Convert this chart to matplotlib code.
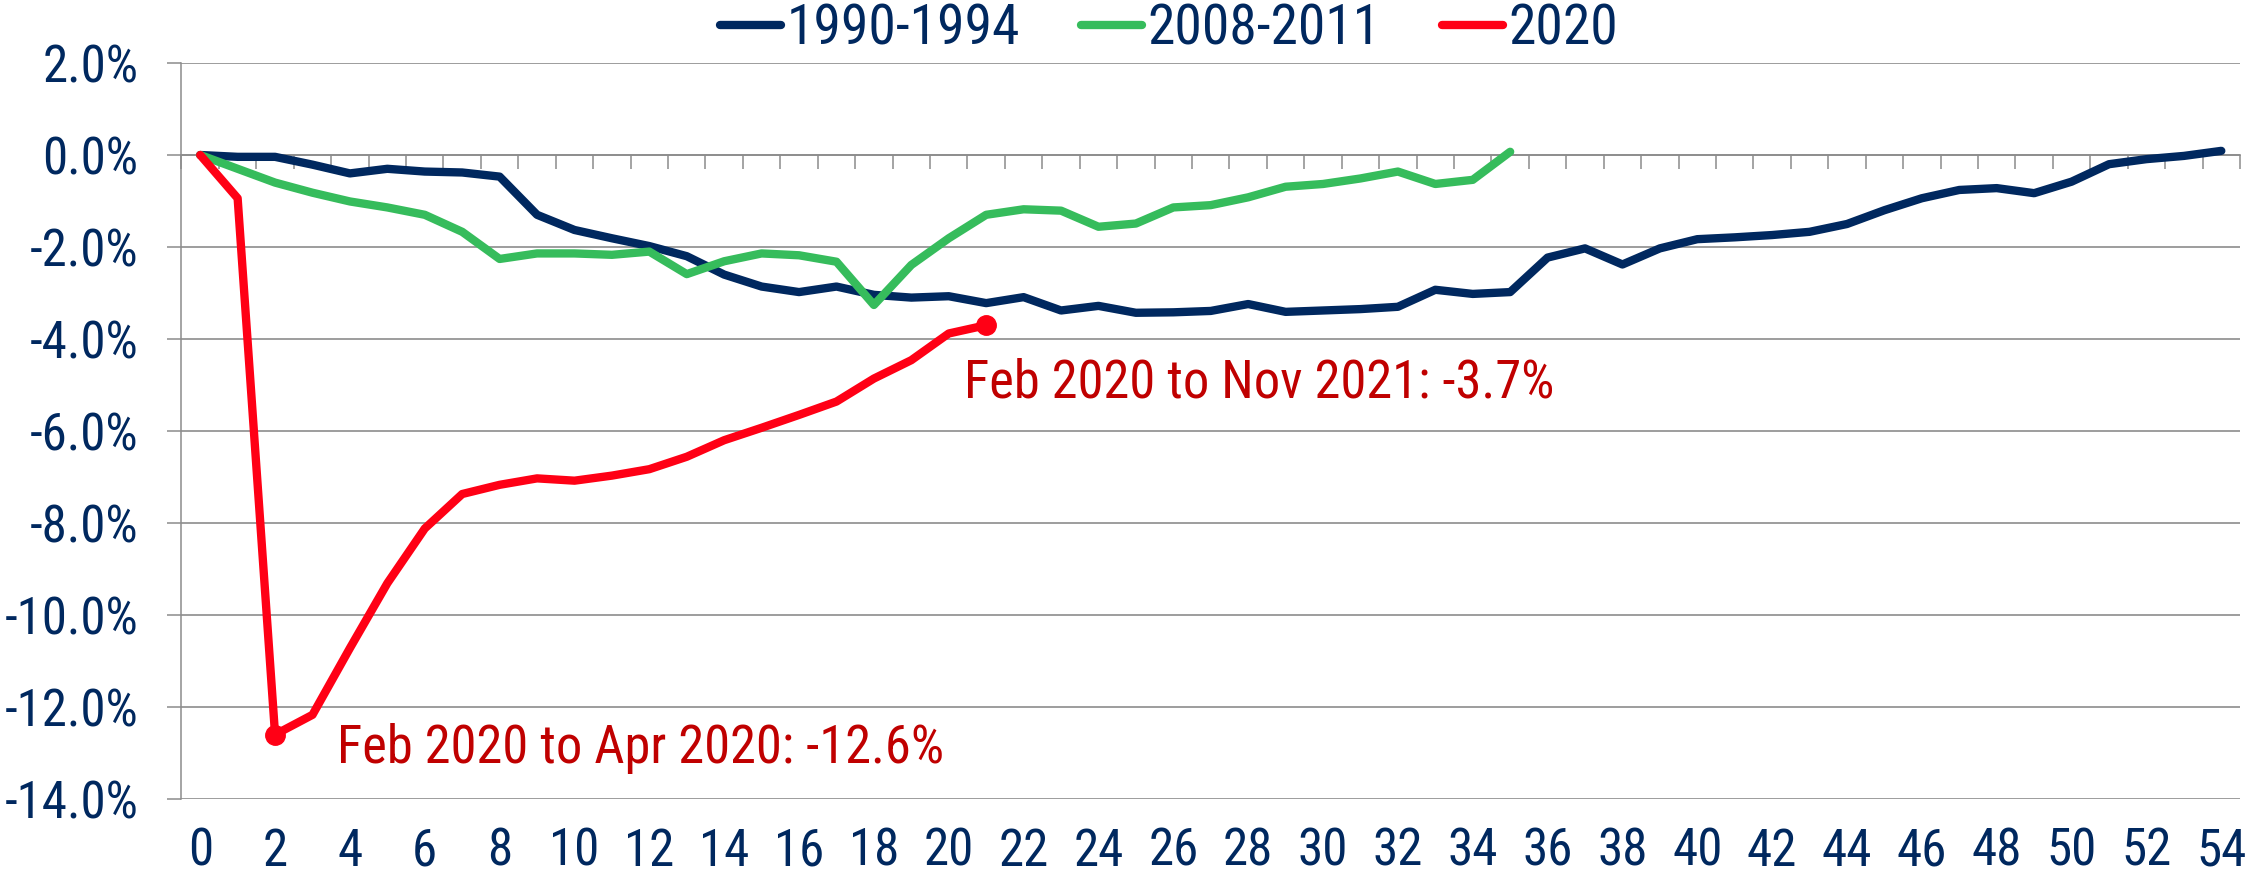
import numpy as np
import matplotlib
matplotlib.use("Agg")
import matplotlib.pyplot as plt
from matplotlib import font_manager
from matplotlib.ticker import FuncFormatter

# ---------------- data ----------------
series_names = ["1990-1994", "2008-2011", "2020"]
vals_1990 = [0.00, -0.04, -0.04, -0.21, -0.40, -0.30, -0.36, -0.38, -0.47, -1.30,
             -1.63, -1.81, -1.98, -2.20, -2.60, -2.86, -2.98, -2.86, -3.04, -3.10,
             -3.07, -3.22, -3.09, -3.38, -3.28, -3.43, -3.42, -3.39, -3.24, -3.41,
             -3.38, -3.35, -3.30, -2.93, -3.02, -2.98, -2.23, -2.03, -2.38, -2.03,
             -1.83, -1.79, -1.74, -1.67, -1.50, -1.20, -0.94, -0.76, -0.72, -0.83,
             -0.58, -0.20, -0.09, -0.02, 0.09]
vals_2008 = [0.00, -0.30, -0.60, -0.82, -1.01, -1.14, -1.30, -1.67, -2.26, -2.14,
             -2.14, -2.17, -2.10, -2.59, -2.31, -2.14, -2.18, -2.32, -3.26, -2.39,
             -1.81, -1.30, -1.18, -1.21, -1.56, -1.49, -1.14, -1.09, -0.92, -0.69,
             -0.63, -0.51, -0.36, -0.63, -0.54, 0.07]
vals_2020 = [0.00, -0.94, -12.60, -12.17, -10.72, -9.31, -8.12, -7.37, -7.17, -7.03,
             -7.08, -6.97, -6.83, -6.56, -6.20, -5.93, -5.65, -5.36, -4.86, -4.46,
             -3.88, -3.70]
marked_idx_2020 = [2, 21]
annotations = ["Feb 2020 to Apr 2020: -12.6%", "Feb 2020 to Nov 2021: -3.7%"]
y_ticks = [2, 0, -2, -4, -6, -8, -10, -12, -14]
x_ticks = list(range(0, 55, 2))

# ---------------- fonts (prefer a narrow sans like Arial Narrow) ----------------
entries = font_manager.fontManager.ttflist
names = {f.name for f in entries}
scale = 1.0
xpad = 27
stretch = "normal"
if "Liberation Sans Narrow" in names:
    FONT = "Liberation Sans Narrow"
elif "Arial Narrow" in names:
    FONT = "Arial Narrow"
elif "Roboto Condensed" in names:
    FONT = "Roboto Condensed"
    scale = 1.08
    xpad = 20
elif any(f.name == "DejaVu Sans" and str(f.stretch) in ("condensed", "semi-condensed", "587", "750")
         for f in entries):
    FONT = "DejaVu Sans"
    stretch = "condensed"
    scale = 0.92
    xpad = 20
else:
    FONT = "Liberation Sans"
    scale = 0.9
plt.rcParams["font.family"] = [FONT, "DejaVu Sans"]
plt.rcParams["font.stretch"] = stretch

NAVY = "#00285F"
GREEN = "#36BC5C"
RED = "#FF0015"
ANN = "#C00000"
GRAY = "#8C8C8C"

fig = plt.figure(figsize=(22.67, 8.81), dpi=100)
ax = fig.add_axes([0.08006, 0.09308, 0.90803, 0.83541])

lw = 6.0
for vals, col, name in zip([vals_1990, vals_2008, vals_2020],
                           [NAVY, GREEN, RED], series_names):
    x = np.arange(len(vals))
    ax.plot(x, vals, color=col, lw=lw, label=name, solid_capstyle="round",
            solid_joinstyle="round", zorder=3)

x20 = np.arange(len(vals_2020))
ax.plot(x20[marked_idx_2020], np.array(vals_2020)[marked_idx_2020], "o",
        color=RED, ms=14, zorder=4, label="_nolegend_")

ax.set_xlim(-0.5, 54.5)
ax.set_ylim(-14, 2)

ax.set_yticks(y_ticks)
ax.yaxis.set_major_formatter(FuncFormatter(lambda v, p: f"{v:.1f}%"))
ax.set_xticks(x_ticks)
ax.set_xticklabels([str(t) for t in x_ticks])

ax.tick_params(axis="y", length=10, width=1.1, color=GRAY, pad=21,
               labelsize=34 * scale, labelcolor=NAVY, direction="out")
ax.tick_params(axis="x", length=0, pad=xpad, labelsize=34 * scale, labelcolor=NAVY)

ax.yaxis.grid(True, color=GRAY, lw=1.2)
ax.set_axisbelow(True)
for s in ["top", "right", "bottom"]:
    ax.spines[s].set_visible(False)
ax.spines["left"].set_color(GRAY)
ax.spines["left"].set_linewidth(1.1)

# category axis crossing at 0 with tick marks between categories
ymin, ymax = ax.get_ylim()
sec = ax.secondary_xaxis((0 - ymin) / (ymax - ymin))
sec.set_xticks(np.arange(-0.5, 55, 1))
sec.set_xticklabels([])
sec.tick_params(axis="x", direction="in", length=10, width=1.1, color=GRAY)
for s in sec.spines.values():
    s.set_color(GRAY)
    s.set_linewidth(1.2)

# annotations
ax.text(3.66, -13.22, annotations[0], color=ANN, fontsize=35 * scale, va="baseline", ha="left")
ax.text(20.4, -5.28, annotations[1], color=ANN, fontsize=35 * scale, va="baseline", ha="left")

leg = fig.legend(loc="center", bbox_to_anchor=(0.5157, 0.967), ncol=3, frameon=False,
                 fontsize=37 * scale, handlelength=1.1, handletextpad=0.1,
                 columnspacing=1.1, borderpad=0, borderaxespad=0)
for t in leg.get_texts():
    t.set_color(NAVY)

fig.savefig("out.png", dpi=100)
